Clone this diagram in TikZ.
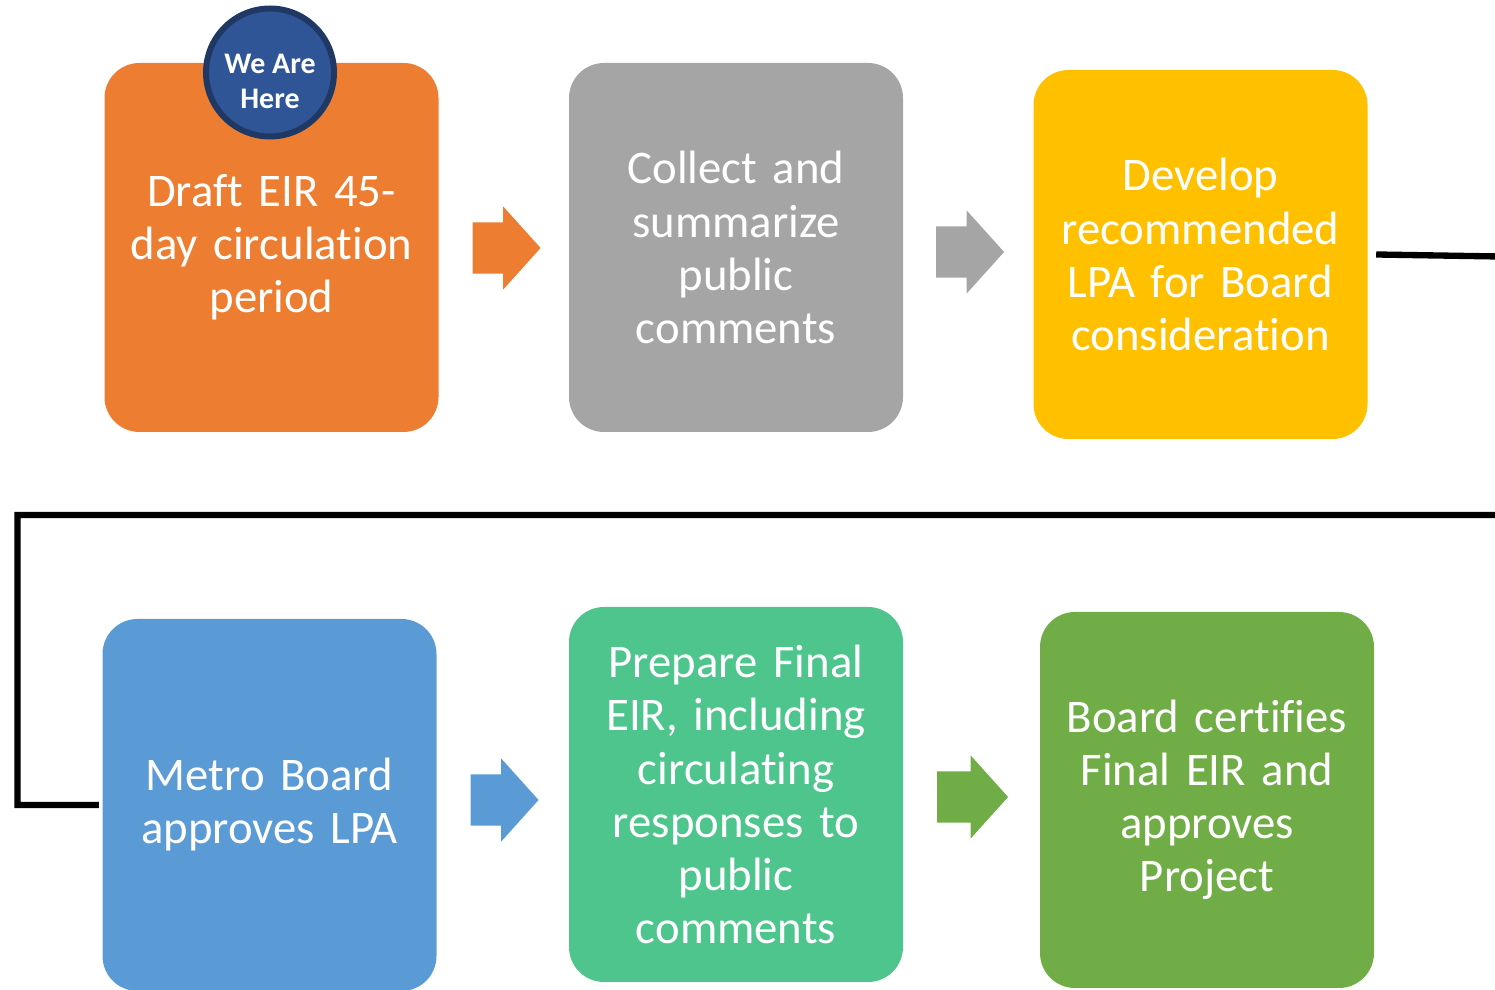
\documentclass[tikz,border=0pt]{standalone}
\usepackage{fontspec}
\setmainfont[Ligatures=NoCommon]{Carlito}
\usepackage{tikz}
\usetikzlibrary{shapes, arrows, positioning}

\definecolor{draftorange}{HTML}{ED7D31}
\definecolor{commentgray}{HTML}{A5A5A5}
\definecolor{lpayellow}{HTML}{FFC000}
\definecolor{boardblue}{HTML}{5B9BD5}
\definecolor{finalteal}{HTML}{4FC58E}
\definecolor{certifygreen}{HTML}{70AD47}
\definecolor{badgeblue}{HTML}{2F5597}
\definecolor{badgeedge}{HTML}{203864}

\begin{document}
\begin{tikzpicture}[
    stepbox/.style={rounded corners=0.35cm, minimum width=3.34cm, minimum height=3.69cm,
        text width=3.3cm, align=center, inner sep=0pt, text=white,
        font=\fontsize{13.3}{15.1}\selectfont},
    blockarrow/.style={single arrow, draw=none, inner xsep=0pt, inner ysep=0.25cm,
        minimum height=0.68cm, single arrow head extend=0.16cm, single arrow tip angle=96},
    badgetext/.style={align=center, text=white, font=\fontsize{8.5}{10.2}\selectfont\bfseries},
    link/.style={line width=1.8pt}
]
        \useasboundingbox (0,0) rectangle (14.95,9.9);
        \clip (0,0) rectangle (14.95,9.9);

        % Top row
        \node[stepbox, fill=draftorange] (draft) at (2.715,7.425) {Draft EIR 45-\\day circulation\\period};
        \node[stepbox, fill=commentgray] (collect) at (7.36,7.425) {Collect and\\summarize\\public\\comments};
        \node[stepbox, fill=lpayellow] (lpa) at (12.005,7.355) {Develop\\recommended\\LPA for Board\\consideration};

        % We are here badge
        \node[circle, fill=badgeblue, draw=badgeedge, line width=1.7pt, minimum size=1.28cm, inner sep=0pt,
            label={[badgetext, yshift=-0.09cm]center:We Are\\Here}] (here) at (2.70,9.175) {};

        % Bottom row
        \node[stepbox, fill=boardblue, minimum height=3.72cm] (metro) at (2.695,1.85) {Metro Board\\approves LPA};
        \node[stepbox, fill=finalteal, minimum height=3.75cm] (final) at (7.36,1.955) {Prepare Final\\EIR, including\\circulating\\responses to\\public\\comments};
        \node[stepbox, fill=certifygreen, minimum height=3.76cm] (certify) at (12.07,1.90) {Board certifies\\Final EIR and\\approves\\Project};

        % Arrows
        \node[blockarrow, fill=draftorange] (arrowA) at (4.95,7.42) {};
        \node[blockarrow, fill=commentgray] (arrowB) at (9.585,7.38) {};
        \node[blockarrow, fill=boardblue] (arrowC) at (4.93,1.90) {};
        \node[blockarrow, fill=certifygreen, minimum height=0.71cm] (arrowD) at (9.61,1.93) {};

        % Connector
        \coordinate (offright) at (15.3,7.33);
        \coordinate (backright) at (15.3,4.75);
        \coordinate (leftturn) at (0.175,4.75);
        \draw[link] ([xshift=0.08cm]lpa.east) -- (offright) -- (backright) -- (leftturn) |- ([xshift=-0.03cm]metro.west);
    \end{tikzpicture}
\end{document}
